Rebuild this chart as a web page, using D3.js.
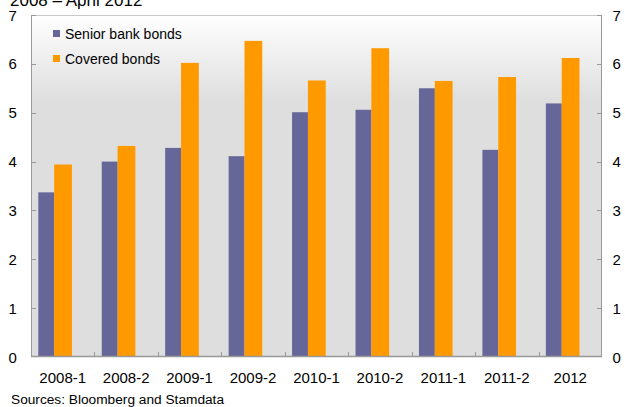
<!DOCTYPE html>
<html><head><meta charset="utf-8">
<script src="https://cdn.jsdelivr.net/npm/d3@7"></script>
<style>body{margin:0;background:#fff}svg{display:block}</style>
</head><body>
<script>
const categories = ["2008-1","2008-2","2009-1","2009-2","2010-1","2010-2","2011-1","2011-2","2012"];
const senior = [3.37, 4.00, 4.28, 4.11, 5.01, 5.06, 5.50, 4.24, 5.19];
const covered = [3.94, 4.32, 6.02, 6.47, 5.66, 6.32, 5.65, 5.73, 6.12];
const yTicks = [0,1,2,3,4,5,6,7];
const seriesNames = ["Senior bank bonds","Covered bonds"];
const colors = ["#666699","#ff9900"];

const W=625,H=407;
const L=31,R=602,T=15,B=357;
const svg=d3.select("body").append("svg").attr("width",W).attr("height",H)
  .style("font-family","'Liberation Sans', Arial, sans-serif");

const defs=svg.append("defs");
const g=defs.append("linearGradient").attr("id","bg").attr("x1",0).attr("y1",0).attr("x2",0).attr("y2",1);
g.append("stop").attr("offset","0%").attr("stop-color","#ffffff");
g.append("stop").attr("offset","25%").attr("stop-color","#dedede");
g.append("stop").attr("offset","100%").attr("stop-color","#dedede");

svg.append("rect").attr("x",L).attr("y",T).attr("width",R-L).attr("height",B-T).attr("fill","url(#bg)");

const x=d3.scaleBand().domain(categories).range([L,R]);
const y=d3.scaleLinear().domain([0,7]).range([B,T]);

// bars
const bw=x.bandwidth();
const sx=d3.scaleLinear().domain([0,1]).range([0,bw]);
const grp=svg.append("g");
categories.forEach((c,i)=>{
  grp.append("rect").attr("x",x(c)+sx(0.115)).attr("width",sx(0.25)).attr("y",y(senior[i])).attr("height",y(0)-y(senior[i])).attr("fill",colors[0]);
  grp.append("rect").attr("x",x(c)+sx(0.365)).attr("width",sx(0.28)).attr("y",y(covered[i])).attr("height",y(0)-y(covered[i])).attr("fill",colors[1]);
});

// frame
svg.append("rect").attr("x",L+0.5).attr("y",T+0.5).attr("width",R-L-1).attr("height",B-T-1)
  .attr("fill","none").attr("stroke","#c8c8c8");
const ac="#999";
svg.append("line").attr("x1",L+0.5).attr("x2",L+0.5).attr("y1",T).attr("y2",B).attr("stroke",ac);
svg.append("line").attr("x1",R-0.5).attr("x2",R-0.5).attr("y1",T).attr("y2",B).attr("stroke",ac);
svg.append("line").attr("x1",L).attr("x2",R).attr("y1",B-0.5).attr("y2",B-0.5).attr("stroke",ac).attr("stroke-width",1.5);

// y ticks
yTicks.forEach(t=>{
  const yy=Math.round(y(t))+0.5;
  if(t>0){
    svg.append("line").attr("x1",L).attr("x2",L+5).attr("y1",yy).attr("y2",yy).attr("stroke",ac);
    svg.append("line").attr("x1",R-5).attr("x2",R).attr("y1",yy).attr("y2",yy).attr("stroke",ac);
  }
  svg.append("text").attr("x",12.7).attr("y",y(t)+5.5).attr("text-anchor","middle").attr("font-size",15).attr("fill","#000").text(t);
  svg.append("text").attr("x",612.5).attr("y",y(t)+5.5).attr("text-anchor","start").attr("font-size",15).attr("fill","#000").text(t);
});
// x ticks
categories.forEach((c,i)=>{
  if(i>0){
    const xx=Math.round(x(c))+0.5;
    svg.append("line").attr("x1",xx).attr("x2",xx).attr("y1",B).attr("y2",B-5).attr("stroke",ac);
  }
  svg.append("text").attr("x",x(c)+bw/2).attr("y",383).attr("text-anchor","middle").attr("font-size",15).attr("fill","#000").text(c);
});

// legend
seriesNames.forEach((n,i)=>{
  const ly=30+i*25;
  svg.append("rect").attr("x",53).attr("y",ly).attr("width",7).attr("height",7).attr("fill",colors[i]);
  svg.append("text").attr("x",65).attr("y",ly+8.5).attr("font-size",14).attr("fill","#000").text(n);
});

// title (clipped at top) and source
svg.append("text").attr("x",10).attr("y",6).attr("font-size",17).attr("fill","#000").text("2008 – April 2012");
svg.append("text").attr("x",11).attr("y",404).attr("font-size",13.7).attr("fill","#000").text("Sources: Bloomberg and Stamdata");
</script>
</body></html>
